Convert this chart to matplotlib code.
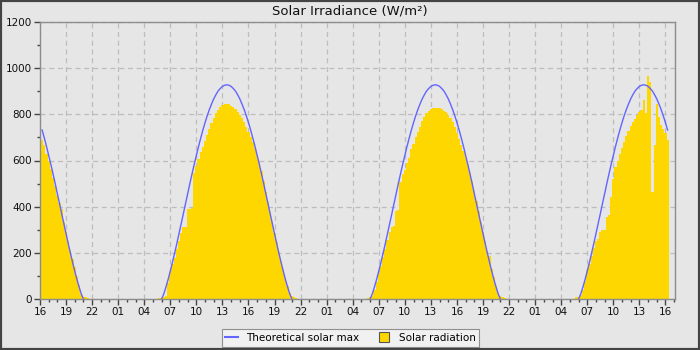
import numpy as np
import matplotlib
matplotlib.use("Agg")
import matplotlib.pyplot as plt
from matplotlib.lines import Line2D
from matplotlib.patches import Rectangle

# Sampling step of the station log, in hours (15 minutes)
STEP = 0.25

# Clear-sky theoretical maximum (W/m²) from 06:00 to 21:00, every 15 min
theoretical_max = [
    0, 22, 52, 85, 121, 159, 199, 240, 283, 326, 369, 413, 456, 500, 542, 583,
    622, 661, 697, 732, 764, 794, 821, 845, 867, 885, 901, 912, 921, 926, 928,
    926, 921, 912, 901, 885, 867, 845, 821, 794, 764, 732, 697, 661, 622, 583,
    542, 500, 456, 413, 369, 326, 283, 240, 199, 159, 121, 85, 52, 22, 0,
]
theoretical_start = 6.0
# Clock-time window of the theoretical curve shown for each day
theoretical_window = [(16.25, 21.0), (6.0, 21.0), (6.0, 21.0), (6.0, 16.25)]

# Measured solar radiation (W/m²), every 15 min, one list per day
radiation_start = [16.25, 5.75, 5.75, 5.75]
radiation_day0 = [
    690, 665, 630, 598, 562, 525, 488, 450, 415, 392, 335, 292, 252, 212, 175,
    138, 98, 60, 22, 10, 8, 4,
]
radiation_day1 = [
    5, 6, 8, 15, 70, 118, 150, 178, 215, 250, 285, 312, 312, 390, 390, 395,
    545, 575, 605, 635, 660, 685, 710, 735, 762, 785, 805, 820, 830, 840, 845,
    845, 843, 838, 830, 822, 812, 798, 783, 765, 745, 722, 700, 678, 655, 625,
    595, 555, 510, 465, 420, 375, 332, 288, 246, 205, 166, 128, 92, 58, 28, 12,
    8, 4,
]
radiation_day2 = [
    5, 8, 15, 40, 75, 112, 145, 180, 218, 255, 290, 310, 315, 380, 385, 505,
    540, 560, 590, 612, 648, 672, 700, 725, 745, 770, 788, 805, 815, 822, 827,
    828, 828, 826, 822, 816, 810, 798, 783, 768, 745, 720, 695, 668, 640, 610,
    580, 545, 510, 468, 425, 380, 335, 292, 250, 208, 185, 130, 94, 58, 28, 12,
    8, 4,
]
radiation_day3 = [
    7, 10, 18, 38, 80, 126, 150, 185, 220, 250, 260, 290, 298, 300, 355, 365,
    440, 520, 570, 598, 630, 655, 682, 708, 728, 748, 765, 780, 795, 808, 820,
    860, 805, 968, 940, 465, 668, 845, 790, 752, 735, 718, 690,
]
radiation_days = [radiation_day0, radiation_day1, radiation_day2, radiation_day3]

tick_labels = ["16", "19", "22", "01", "04", "07", "10", "13"] * 3 + ["16"]

FIRST_HOUR = 16.0  # clock hour at the left edge of the time axis


def to_axis(day, clock):
    """Hours elapsed since 16:00 on the first day."""
    return 24.0 * day + np.asarray(clock, dtype=float) - FIRST_HOUR


fig = plt.figure(figsize=(7, 3.5), dpi=100, facecolor="#e6e6e6")
ax = fig.add_axes([40 / 700, 1 - 299 / 350, 635 / 700, 277 / 350])
ax.set_facecolor("#e6e6e6")

bar_color = "#ffd700"
line_color = "#6464ff"

theo = np.asarray(theoretical_max, dtype=float)
theo_clock = theoretical_start + STEP * np.arange(theo.size)

for day, values in enumerate(radiation_days):
    clock = radiation_start[day] + STEP * np.arange(len(values))
    ax.bar(to_axis(day, clock), values, width=STEP, align="center",
           color=bar_color, linewidth=0, antialiased=False, zorder=2)

    lo, hi = theoretical_window[day]
    keep = (theo_clock >= lo - 1e-9) & (theo_clock <= hi + 1e-9)
    ax.plot(to_axis(day, theo_clock[keep]), theo[keep], color=line_color,
            linewidth=1.0, zorder=3)

ax.set_xlim(0, 73.1)
ax.set_ylim(0, 1200)
ax.set_xticks(np.arange(0, 73, 3))
ax.set_xticklabels(tick_labels)
ax.set_xticks(np.arange(0, 74, 1), minor=True)
ax.set_yticks(np.arange(0, 1201, 200))
ax.set_yticks(np.arange(0, 1201, 100), minor=True)

ax.set_axisbelow(True)
ax.grid(True, which="major", color="#bdbdbd", linestyle=(0, (4, 3)),
        linewidth=0.9)

for spine in ax.spines.values():
    spine.set_color("#8c8c8c")
    spine.set_linewidth(1.0)

ax.tick_params(axis="both", which="major", length=4, width=1, color="#444444",
               labelsize=7.5, labelcolor="#111111", pad=2)
ax.tick_params(axis="both", which="minor", length=2.5, width=1,
               color="#444444")

fig.text(350 / 700, 1 - 11 / 350, "Solar Irradiance (W/m²)", fontsize=9.5,
         color="#111111", ha="center", va="center")

handles = [
    Line2D([], [], color=line_color, linewidth=1.5),
    Line2D([], [], marker="s", linestyle="None", markersize=6.5,
           markerfacecolor=bar_color, markeredgecolor="#555555",
           markeredgewidth=0.8),
]
leg = fig.legend(handles, ["Theoretical solar max", "Solar radiation"],
                 loc="center", bbox_to_anchor=(350.5 / 700, 1 - 338 / 350),
                 ncol=2, fontsize=7.5, frameon=True, fancybox=False,
                 handlelength=1.2, handletextpad=0.8, columnspacing=1.8,
                 borderpad=0.35)
leg.get_frame().set_facecolor("#f4f4f4")
leg.get_frame().set_edgecolor("#7a7a7a")
leg.get_frame().set_linewidth(0.8)

# Dark frame around the whole image
fig.add_artist(Rectangle((0, 0), 1, 1, transform=fig.transFigure,
                         fill=False, edgecolor="#444444", linewidth=3,
                         zorder=10))

fig.savefig("out.png", dpi=100, facecolor=fig.get_facecolor())
